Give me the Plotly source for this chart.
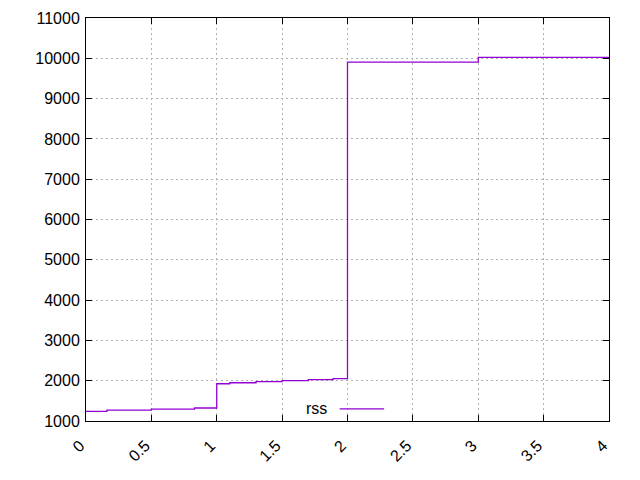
import plotly.graph_objects as go

x_vals = [0, 0.16, 0.5, 0.83, 1.0, 1.1, 1.3, 1.5, 1.7, 1.89, 2.0, 3.0, 4.0]
rss_vals = [1237, 1271, 1297, 1322, 1924, 1949, 1975, 2000, 2025, 2051, 9903, 10024, 10024]
x_ticks = [0, 0.5, 1, 1.5, 2, 2.5, 3, 3.5, 4]
x_tick_labels = ["0", "0.5", "1", "1.5", "2", "2.5", "3", "3.5", "4"]
y_ticks = [1000, 2000, 3000, 4000, 5000, 6000, 7000, 8000, 9000, 10000, 11000]
y_tick_labels = ["1000", "2000", "3000", "4000", "5000", "6000", "7000", "8000", "9000", "10000", "11000"]
series_name = "rss"

color = "#9400D3"
font_family = "Liberation Sans, Arial"

fig = go.Figure()
fig.add_trace(go.Scatter(x=x_vals, y=rss_vals, mode="lines", line=dict(shape="hv", color=color, width=1.3),
                         name=series_name, showlegend=False))

axis_common = dict(showline=True, linecolor="black", linewidth=1, mirror="allticks",
                   ticks="inside", ticklen=6, tickcolor="black", showgrid=True,
                   gridcolor="#b0b0b0", griddash="2px,3px", gridwidth=1, zeroline=False,
                   automargin=False,
                   tickfont=dict(family=font_family, size=16, color="black"))

fig.update_xaxes(range=[0, 4], tickvals=x_ticks, ticktext=x_tick_labels, tickangle=-45,
                 ticklabelstandoff=8, ticklabelshift=-6, **axis_common)
fig.update_yaxes(range=[1000, 11000], tickvals=y_ticks, ticktext=y_tick_labels,
                 ticklabelstandoff=2, **axis_common)

# legend key (gnuplot style: text then sample)
fig.add_annotation(x=0.465, y=0.03, xref="paper", yref="paper", text=series_name, showarrow=False,
                   xanchor="right", yanchor="middle",
                   font=dict(family=font_family, size=16, color="black"))
fig.add_shape(type="line", xref="paper", yref="paper", x0=0.485, x1=0.57, y0=0.03, y1=0.03,
              line=dict(color=color, width=1.3))

fig.update_layout(width=640, height=480, margin=dict(l=78, r=39, t=10, b=67),
                  plot_bgcolor="white", paper_bgcolor="white")

fig.write_html("out.html")
